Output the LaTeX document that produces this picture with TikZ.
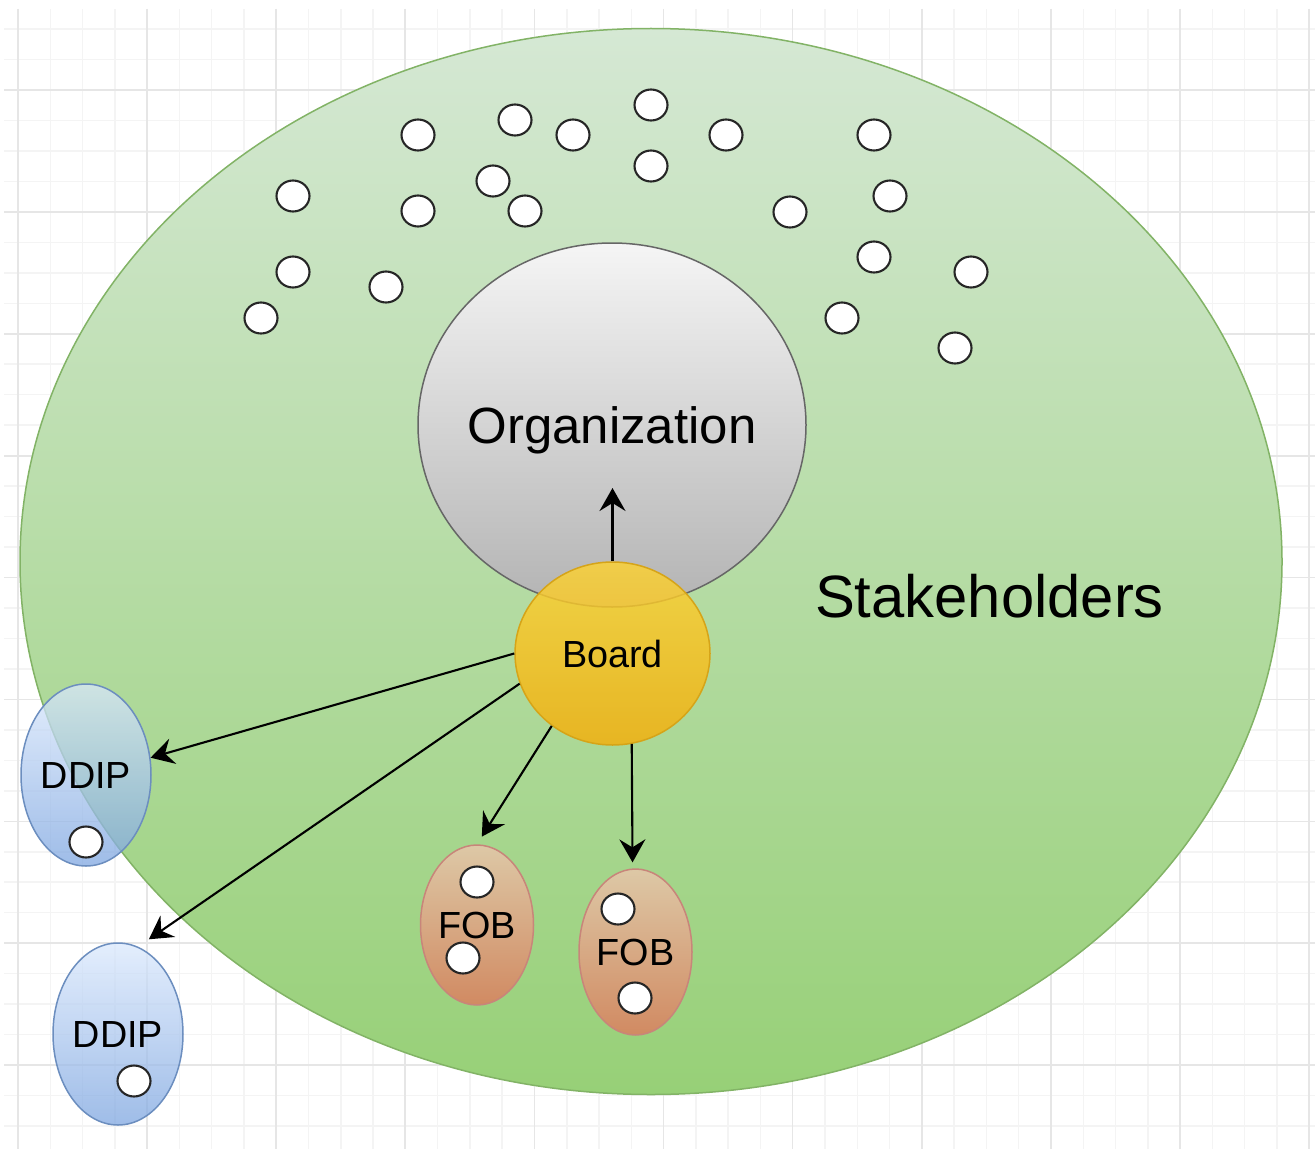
\documentclass[tikz,border=0pt]{standalone}
\usepackage{fontspec}
\setmainfont{Liberation Sans}
\usetikzlibrary{shapes.geometric,arrows.meta}

\definecolor{vertclair}{HTML}{D5E8D4}
\definecolor{vertfonce}{HTML}{97D077}
\definecolor{vertbord}{HTML}{82B366}
\definecolor{grisclair}{HTML}{F5F5F5}
\definecolor{grisfonce}{HTML}{B3B3B3}
\definecolor{grisbord}{HTML}{666666}
\definecolor{jauneclair}{HTML}{FCD232}
\definecolor{jaunefonce}{HTML}{F5AE0A}
\definecolor{jaunebord}{HTML}{D6A418}
\definecolor{bleuclair}{HTML}{DAE8FC}
\definecolor{bleufonce}{HTML}{7EA6E0}
\definecolor{bleubord}{HTML}{6C8EBF}
\definecolor{brunclair}{HTML}{DDC8A6}
\definecolor{brunfonce}{HTML}{D18A62}
\definecolor{brunbord}{HTML}{C8857A}
\definecolor{grillemaj}{HTML}{E6E6E6}
\definecolor{grillemin}{HTML}{F4F4F4}

\def\px{0.2mm}

\tikzset{
   grille/.style={color=grillemaj, line width=0.35mm},
   grillefine/.style={color=grillemin, line width=0.3mm},
   parties/.style={ellipse, inner sep=0, minimum width=1262*\px, minimum height=1066*\px,
      top color=vertclair, bottom color=vertfonce, draw=vertbord, line width=0.3mm},
   organisation/.style={ellipse, inner sep=0, minimum width=388*\px, minimum height=364*\px,
      top color=grisclair, bottom color=grisfonce, draw=grisbord, line width=0.3mm},
   conseil/.style={ellipse, inner sep=0, minimum width=195*\px, minimum height=183*\px,
      top color=jauneclair, bottom color=jaunefonce, draw=jaunebord, line width=0.3mm,
      fill opacity=0.82, text opacity=1, font=\fontsize{21.5}{26}\selectfont},
   ddip/.style={ellipse, inner sep=0, minimum width=130*\px, minimum height=182*\px,
      top color=bleuclair, bottom color=bleufonce, draw=bleubord, line width=0.3mm,
      fill opacity=0.75, text opacity=1, font=\fontsize{21.5}{26}\selectfont},
   fob/.style={ellipse, inner sep=0, minimum width=113*\px, minimum height=162*\px,
      top color=brunclair, bottom color=brunfonce, draw=brunbord, line width=0.3mm,
      font=\fontsize{21.5}{26}\selectfont},
   rond/.style={ellipse, inner sep=0, minimum width=33*\px, minimum height=31*\px,
      fill=white, draw=black!85, line width=0.42mm},
   fleche/.style={-{Stealth[length=4.6mm, width=5.2mm, inset=1.6mm]}, line width=0.42mm}
}

\begin{document}
\begin{tikzpicture}[x=\px, y=-\px]
   \useasboundingbox (0,0) rectangle (1315,1149);

%% grille
   \foreach \i in {0,...,40}
      \draw [grillefine] ({18+32.28*\i},9) -- ({18+32.28*\i},1149);
   \foreach \i in {-2,...,34}
      \draw [grillefine] (4,{90+30.47*\i}) -- (1315,{90+30.47*\i});
   \foreach \i in {0,...,10}
      \draw [grille] ({18+129.1*\i},9) -- ({18+129.1*\i},1149);
   \foreach \i in {0,...,8}
      \draw [grille] (4,{90+121.9*\i}) -- (1315,{90+121.9*\i});

%% Stakeholders
   \node [parties] (stake) at (651,561.5) {};
   \node [font=\fontsize{34}{40}\selectfont] (staketxt) at (989.5,596) {Stakeholders};

   %petits ronds
   \foreach \x/\y [count=\i] in {418/135, 515/120, 573/135, 651/105, 726/135, 874/135,
      293/196, 418/211, 493/181, 525/211, 651/166, 790/212, 890/196,
      293/272, 386/287, 874/257, 971/272, 261/318, 842/318, 955/348}
      \node [rond] (r\i) at (\x,\y) {};

%% Organization et Board
   \node [organisation, label={[font=\fontsize{29}{34}\selectfont, text depth=0pt]center:Organization}] (org) at (612,425) {};
   \coordinate (orgpt) at (612.5,488);
   \node [conseil] (board) at (612.5,653.5) {Board};

%% DDIP
   \node [ddip] (ddip1) at (86,775) {DDIP};
   \node [rond] (dd1) at (86,842) {};
   \node [ddip] (ddip2) at (118,1034) {DDIP};
   \node [rond] (dd2) at (134,1081) {};

%% FOB
   \node [fob, minimum height=160*\px] (fob1) at (477,925) {FOB};
   \node [rond] (fa1) at (477,882) {};
   \node [rond] (fa2) at (463,958) {};
   \node [fob, minimum height=166*\px] (fob2) at (635.5,952) {FOB};
   \node [rond] (fb1) at (618,909) {};
   \node [rond] (fb2) at (635,998) {};

   %fleches
   \draw [fleche] (board.north) -- (orgpt);
   \draw [fleche] (board.180) -- (ddip1.15);
   \draw [fleche, shorten >=2.6mm] (board.198) -- (ddip2.77);
   \draw [fleche, shorten >=1.8mm] (board.230) -- (fob1.90);
   \draw [fleche, shorten >=1.2mm] (board.282) -- (fob2.92);

\end{tikzpicture}
\end{document}
